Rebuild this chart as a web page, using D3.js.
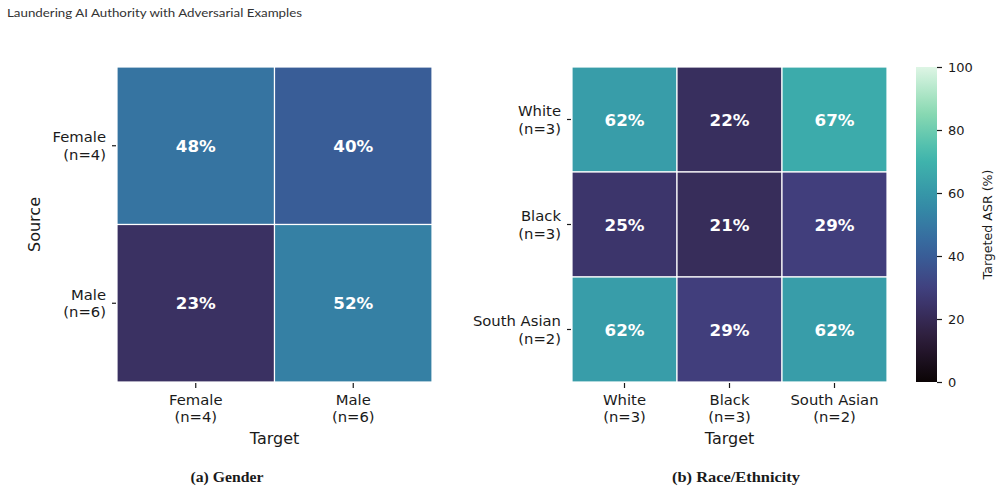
<!DOCTYPE html>
<html>
<head>
<meta charset="utf-8">
<script src="https://cdn.jsdelivr.net/npm/d3@7"></script>
<style>
  body { margin: 0; background: #fff; }
  svg { display: block; }
</style>
</head>
<body>
<script>
// data (targeted ASR, %)
var genderLabels = ["Female\n(n=4)", "Male\n(n=6)"];
var genderValues = [
  [48, 40],
  [23, 52]
];
var raceLabels = ["White\n(n=3)", "Black\n(n=3)", "South Asian\n(n=2)"];
var raceValues = [
  [62, 22, 67],
  [25, 21, 29],
  [62, 29, 62]
];
var cbarTicks = [0, 20, 40, 60, 80, 100];

// mako colormap stops
var makoStops = ["#0b0405", "#2e1e3c", "#413d7b", "#37659e", "#348fa7", "#40b7ad", "#8bdab2", "#def5e5"];
var makoDomain = [0, 100/7, 200/7, 300/7, 400/7, 500/7, 600/7, 100];
var color = d3.scaleLinear().domain(makoDomain).range(makoStops).interpolate(d3.interpolateRgb);

var W = 1000, H = 491;
var svg = d3.select("body").append("svg").attr("width", W).attr("height", H);

var tickFont = "DejaVu Sans";
var ink = "#1a1a1a";

// header
svg.append("text")
  .attr("x", 7).attr("y", 17)
  .attr("font-family", "Lato").attr("font-size", 11.5)
  .attr("fill", "#333")
  .attr("textLength", 295).attr("lengthAdjust", "spacingAndGlyphs")
  .text("Laundering AI Authority with Adversarial Examples");

function heatmap(labels, values, x0, x1, y0, y1, showSource) {
  var g = svg.append("g");
  var xs = d3.scaleBand().domain(d3.range(labels.length)).range([x0, x1]);
  var ys = d3.scaleBand().domain(d3.range(labels.length)).range([y0, y1]);

  var cells = [];
  values.forEach(function(row, i) {
    row.forEach(function(v, j) { cells.push({r: i, c: j, v: v}); });
  });

  g.selectAll("rect.cell").data(cells).enter().append("rect")
    .attr("class", "cell")
    .attr("x", function(d) { return xs(d.c); })
    .attr("y", function(d) { return ys(d.r); })
    .attr("width", xs.bandwidth())
    .attr("height", ys.bandwidth())
    .attr("fill", function(d) { return color(d.v); })
    .attr("stroke", "#fff")
    .attr("stroke-width", 1.2);

  g.selectAll("text.ann").data(cells).enter().append("text")
    .attr("class", "ann")
    .attr("x", function(d) { return xs(d.c) + xs.bandwidth() / 2; })
    .attr("y", function(d) { return ys(d.r) + ys.bandwidth() / 2; })
    .attr("dy", "0.36em")
    .attr("text-anchor", "middle")
    .attr("font-family", tickFont).attr("font-weight", "bold")
    .attr("font-size", 16.7).attr("fill", "#fff")
    .text(function(d) { return d.v + "%"; });

  // y ticks
  var yt = g.selectAll("g.yt").data(labels).enter().append("g")
    .attr("transform", function(d, i) { return "translate(" + x0 + "," + (ys(i) + ys.bandwidth() / 2) + ")"; });
  yt.append("line").attr("x1", -5).attr("x2", -1).attr("stroke", ink).attr("stroke-width", 1.2);
  yt.each(function(d) {
    var lines = d.split("\n");
    var t = d3.select(this).append("text")
      .attr("text-anchor", "end")
      .attr("font-family", tickFont).attr("font-size", 14.8).attr("fill", ink);
    lines.forEach(function(s, k) {
      t.append("tspan").attr("x", -11).attr("y", (k - 0.5) * 17.5).attr("dy", "0.36em").text(s);
    });
  });

  // x ticks
  var xt = g.selectAll("g.xt").data(labels).enter().append("g")
    .attr("transform", function(d, i) { return "translate(" + (xs(i) + xs.bandwidth() / 2) + "," + y1 + ")"; });
  xt.append("line").attr("y1", 1).attr("y2", 6).attr("stroke", ink).attr("stroke-width", 1.2);
  xt.each(function(d) {
    var lines = d.split("\n");
    var t = d3.select(this).append("text")
      .attr("text-anchor", "middle")
      .attr("font-family", tickFont).attr("font-size", 14.8).attr("fill", ink);
    lines.forEach(function(s, k) {
      t.append("tspan").attr("x", 0).attr("y", 17.5 + k * 17.5).attr("dy", "0.36em").text(s);
    });
  });

  g.append("text")
    .attr("x", (x0 + x1) / 2).attr("y", y1 + 56).attr("dy", "0.36em")
    .attr("text-anchor", "middle")
    .attr("font-family", tickFont).attr("font-size", 16).attr("fill", ink)
    .text("Target");

  if (showSource) {
    g.append("text")
      .attr("transform", "translate(" + 34 + "," + ((y0 + y1) / 2) + ") rotate(-90)")
      .attr("dy", "0.36em")
      .attr("text-anchor", "middle")
      .attr("font-family", tickFont).attr("font-size", 16).attr("fill", ink)
      .text("Source");
  }
}

heatmap(genderLabels, genderValues, 117, 432, 67, 382, true);
heatmap(raceLabels, raceValues, 572, 887, 67, 382, false);

// colorbar
var cbX = 916, cbW = 21, cbTop = 67, cbBot = 382;
var cy = d3.scaleLinear().domain([0, 100]).range([cbBot, cbTop]);
var defs = svg.append("defs");
var grad = defs.append("linearGradient").attr("id", "mako")
  .attr("x1", 0).attr("y1", 1).attr("x2", 0).attr("y2", 0);
d3.range(0, 101, 5).forEach(function(v) {
  grad.append("stop").attr("offset", v / 100).attr("stop-color", color(v));
});
svg.append("rect")
  .attr("x", cbX).attr("y", cbTop).attr("width", cbW).attr("height", cbBot - cbTop)
  .attr("fill", "url(#mako)");

var cbAxis = d3.axisRight(cy).tickValues(cbarTicks).tickSize(5).tickPadding(6);
var cbG = svg.append("g").attr("transform", "translate(" + (cbX + cbW) + ",0)").call(cbAxis);
cbG.select(".domain").remove();
cbG.selectAll("line").attr("stroke", ink).attr("stroke-width", 1.2);
cbG.selectAll("text").attr("font-family", tickFont).attr("font-size", 13).attr("fill", ink);

svg.append("text")
  .attr("transform", "translate(987," + ((cbTop + cbBot) / 2) + ") rotate(-90)")
  .attr("dy", "0.36em")
  .attr("text-anchor", "middle")
  .attr("font-family", tickFont).attr("font-size", 12.6).attr("fill", ink)
  .text("Targeted ASR (%)");

// sub-captions
svg.append("text")
  .attr("x", 227).attr("y", 481.5)
  .attr("text-anchor", "middle")
  .attr("font-family", "Liberation Serif").attr("font-weight", "bold").attr("font-size", 15)
  .attr("fill", ink)
  .attr("textLength", 73).attr("lengthAdjust", "spacingAndGlyphs")
  .text("(a) Gender");
svg.append("text")
  .attr("x", 736).attr("y", 481.5)
  .attr("text-anchor", "middle")
  .attr("font-family", "Liberation Serif").attr("font-weight", "bold").attr("font-size", 15)
  .attr("fill", ink)
  .attr("textLength", 128).attr("lengthAdjust", "spacingAndGlyphs")
  .text("(b) Race/Ethnicity");
</script>
</body>
</html>
